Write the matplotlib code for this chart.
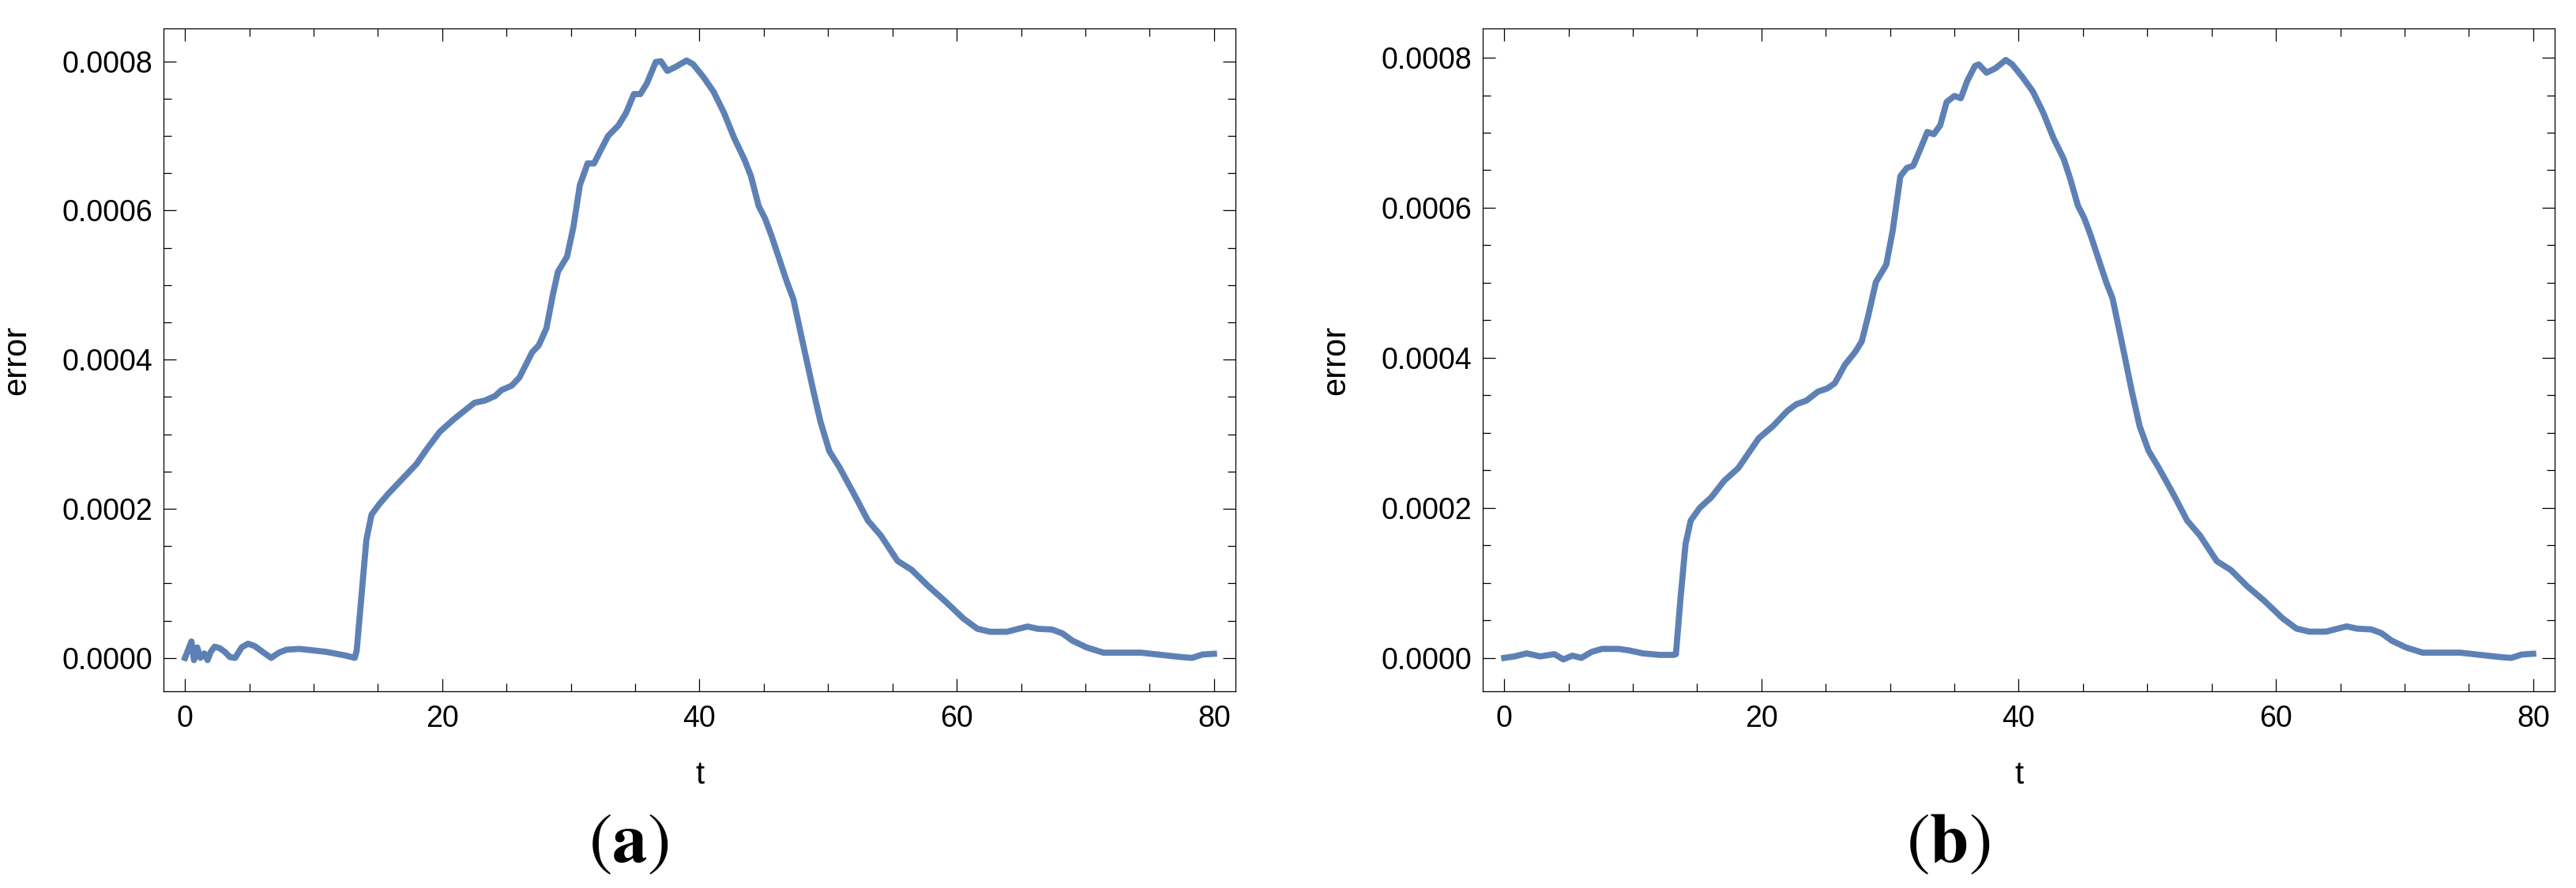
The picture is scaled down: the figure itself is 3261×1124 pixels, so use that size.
import matplotlib
matplotlib.use("Agg")
import matplotlib.pyplot as plt
from matplotlib.ticker import MultipleLocator, FormatStrFormatter

# datos
t_a = [0.0, 0.5, 0.7, 0.95, 1.2, 1.5, 1.75, 2.0, 2.3, 2.7, 3.1, 3.5, 3.9, 4.4, 4.9, 5.4,
       6.2, 6.7, 7.3, 7.9, 8.9, 10.0, 11.0, 12.4, 13.2, 13.35, 13.7, 14.1, 14.5, 15.1,
       15.8, 16.9, 18.0, 18.8, 19.8, 20.9, 21.7, 22.5, 23.3, 24.1, 24.6, 25.4, 26.0,
       26.5, 27.0, 27.5, 28.1, 28.6, 29.0, 29.7, 30.2, 30.7, 31.3, 31.8, 32.3, 32.9,
       33.7, 34.3, 34.9, 35.4, 35.9, 36.6, 37.0, 37.5, 38.2, 39.0, 39.5, 40.3, 41.1,
       41.9, 42.7, 43.5, 44.0, 44.6, 45.1, 45.6, 46.2, 46.8, 47.3, 48.0, 48.8, 49.4,
       50.1, 50.9, 52.0, 53.1, 54.1, 55.4, 56.5, 57.8, 59.1, 60.5, 61.6, 62.6, 63.9,
       64.8, 65.5, 66.3, 67.4, 68.2, 69.0, 70.1, 71.4, 72.7, 74.3, 75.9, 77.5, 78.3,
       79.1, 80.0]
err_a = [0.0, 2.2e-5, -3e-6, 1.4e-5, 0.0, 6e-6, -3e-6, 8e-6, 1.5e-5, 1.3e-5, 8e-6,
         1e-6, 0.0, 1.4e-5, 1.9e-5, 1.6e-5, 6e-6, 0.0, 7e-6, 1.1e-5, 1.2e-5, 1.0e-5,
         8e-6, 3.4e-6, 0.0, 1.0e-5, 7.9e-5, 1.58e-4, 1.92e-4, 2.06e-4, 2.2e-4,
         2.4e-4, 2.6e-4, 2.8e-4, 3.03e-4, 3.2e-4, 3.31e-4, 3.42e-4, 3.45e-4, 3.51e-4,
         3.59e-4, 3.65e-4, 3.76e-4, 3.93e-4, 4.1e-4, 4.19e-4, 4.42e-4, 4.87e-4,
         5.18e-4, 5.38e-4, 5.78e-4, 6.34e-4, 6.63e-4, 6.63e-4, 6.8e-4, 7.0e-4,
         7.14e-4, 7.31e-4, 7.56e-4, 7.56e-4, 7.7e-4, 7.99e-4, 8.0e-4, 7.87e-4,
         7.93e-4, 8.01e-4, 7.96e-4, 7.79e-4, 7.59e-4, 7.31e-4, 6.97e-4, 6.68e-4,
         6.46e-4, 6.06e-4, 5.89e-4, 5.66e-4, 5.35e-4, 5.04e-4, 4.81e-4, 4.25e-4,
         3.62e-4, 3.17e-4, 2.77e-4, 2.55e-4, 2.2e-4, 1.84e-4, 1.64e-4, 1.3e-4,
         1.18e-4, 9.6e-5, 7.6e-5, 5.3e-5, 3.9e-5, 3.5e-5, 3.5e-5, 3.9e-5, 4.2e-5,
         3.9e-5, 3.8e-5, 3.3e-5, 2.3e-5, 1.4e-5, 7e-6, 7e-6, 7e-6, 4e-6, 1e-6, 0.0,
         4.5e-6, 5.5e-6]

t_b = [0.0, 0.8, 1.75, 2.8, 3.9, 4.6, 5.3, 6.0, 6.8, 7.6, 8.9, 9.7, 10.8, 12.1, 13.2,
       13.35, 13.7, 14.1, 14.5, 15.2, 16.1, 17.1, 18.2, 19.0, 19.8, 20.9, 22.0, 22.7,
       23.5, 24.4, 25.1, 25.7, 26.5, 27.3, 27.8, 28.3, 28.9, 29.7, 30.2, 30.8, 31.3,
       31.8, 32.3, 32.9, 33.4, 33.9, 34.4, 35.0, 35.5, 36.0, 36.6, 36.9, 37.5, 38.2,
       39.0, 39.5, 40.3, 41.1, 41.9, 42.7, 43.5, 44.0, 44.6, 45.1, 45.6, 46.2, 46.8,
       47.3, 48.0, 48.8, 49.4, 50.1, 50.9, 52.0, 53.1, 54.1, 55.4, 56.5, 57.8, 59.1,
       60.5, 61.6, 62.6, 63.9, 64.8, 65.5, 66.3, 67.4, 68.2, 69.0, 70.1, 71.4, 72.7,
       74.3, 75.9, 77.5, 78.3, 79.1, 80.0]
err_b = [0.0, 2e-6, 6e-6, 2e-6, 5e-6, -2e-6, 3e-6, 0.0, 8e-6, 1.2e-5, 1.2e-5, 1.0e-5,
         6e-6, 4e-6, 4e-6, 5e-6, 7.8e-5, 1.52e-4, 1.83e-4, 2.0e-4, 2.14e-4, 2.36e-4,
         2.53e-4, 2.73e-4, 2.93e-4, 3.09e-4, 3.29e-4, 3.38e-4, 3.43e-4, 3.55e-4,
         3.59e-4, 3.66e-4, 3.91e-4, 4.08e-4, 4.22e-4, 4.56e-4, 5.01e-4, 5.24e-4,
         5.69e-4, 6.42e-4, 6.53e-4, 6.56e-4, 6.76e-4, 7.01e-4, 6.98e-4, 7.1e-4,
         7.41e-4, 7.49e-4, 7.46e-4, 7.69e-4, 7.89e-4, 7.91e-4, 7.8e-4, 7.86e-4,
         7.97e-4, 7.91e-4, 7.74e-4, 7.55e-4, 7.27e-4, 6.93e-4, 6.65e-4, 6.39e-4,
         6.03e-4, 5.86e-4, 5.63e-4, 5.32e-4, 5.01e-4, 4.79e-4, 4.22e-4, 3.55e-4,
         3.09e-4, 2.76e-4, 2.53e-4, 2.19e-4, 1.83e-4, 1.63e-4, 1.29e-4, 1.17e-4,
         9.5e-5, 7.6e-5, 5.3e-5, 3.9e-5, 3.5e-5, 3.5e-5, 3.9e-5, 4.2e-5, 3.9e-5,
         3.8e-5, 3.3e-5, 2.3e-5, 1.4e-5, 7e-6, 7e-6, 7e-6, 4e-6, 1e-6, 0.0, 4.5e-6,
         5.5e-6]

paneles = ["a", "b"]

plt.rcParams["font.family"] = ["Liberation Sans", "DejaVu Sans"]
plt.rcParams["mathtext.fontset"] = "stix"

fig = plt.figure(figsize=(32.62, 11.24), dpi=100)
izq = [207 / 3262, 1877 / 3262]
ylims = [(-4.48e-5, 8.44e-4), (-4.45e-5, 8.39e-4)]
datos = [(t_a, err_a), (t_b, err_b)]

for i in range(2):
    ax = fig.add_axes([izq[i], 249 / 1124, 1357 / 3262, 839 / 1124])
    t, e = datos[i]
    ax.plot(t, e, color="#5E81B5", lw=5.6, solid_joinstyle="round")
    ax.set_xlim(-1.67, 81.67)
    ax.set_ylim(*ylims[i])
    ax.xaxis.set_major_locator(MultipleLocator(20))
    ax.xaxis.set_minor_locator(MultipleLocator(5))
    ax.yaxis.set_major_locator(MultipleLocator(0.0002))
    ax.yaxis.set_minor_locator(MultipleLocator(0.00005))
    ax.yaxis.set_major_formatter(FormatStrFormatter("%.4f"))
    ax.tick_params(which="both", direction="in", top=True, right=True,
                   width=0.9, labelsize=27, color="black")
    ax.tick_params(which="major", length=11.5)
    ax.tick_params(which="minor", length=7.2)
    ax.tick_params(axis="x", pad=12)
    ax.tick_params(axis="y", pad=10)
    for s in ax.spines.values():
        s.set_linewidth(0.9)
        s.set_color("black")
    ax.set_xlabel("t", fontsize=29, labelpad=25)
    ax.set_ylabel("error", fontsize=30)
    ax.yaxis.set_label_coords(-0.122, 0.5)
    fig.text(izq[i] + (796 - 207) / 3262, 0.05, r"$(\mathbf{" + paneles[i] + "})$",
             fontsize=64, ha="center", va="center")

fig.savefig("out.png", dpi=100)
